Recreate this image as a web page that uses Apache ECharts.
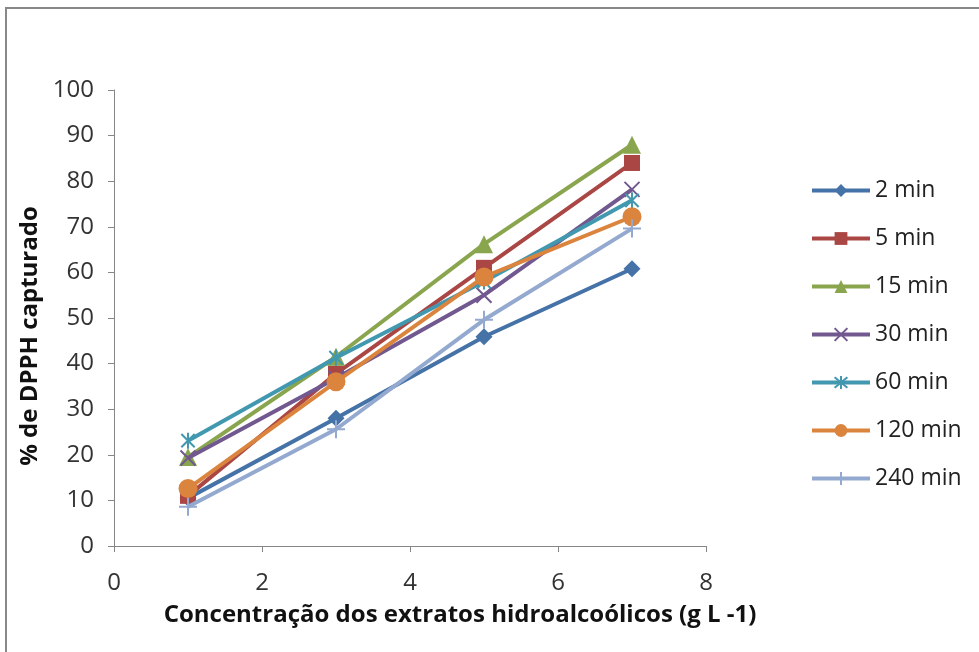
<!DOCTYPE html>
<html><head><meta charset="utf-8">
<script src="https://cdn.jsdelivr.net/npm/echarts@6/dist/echarts.min.js"></script>
<style>html,body{margin:0;padding:0;background:#fff}#c{width:979px;height:652px}</style>
</head><body><div id="c"></div>
<script>
const xValues = [1, 3, 5, 7];
const seriesNames = ['2 min', '5 min', '15 min', '30 min', '60 min', '120 min', '240 min'];
const s2min   = [10.5, 28.0, 45.9, 60.8];
const s5min   = [11.0, 37.8, 61.0, 84.0];
const s15min  = [19.5, 41.5, 66.2, 88.0];
const s30min  = [19.3, 36.8, 55.0, 78.2];
const s60min  = [23.1, 41.3, 58.0, 75.8];
const s120min = [12.6, 36.0, 59.0, 72.2];
const s240min = [8.6, 25.6, 49.6, 69.6];
const xTicks = [0, 2, 4, 6, 8];
const yTicks = [0, 10, 20, 30, 40, 50, 60, 70, 80, 90, 100];

const allData = [s2min, s5min, s15min, s30min, s60min, s120min, s240min];
const colors = ['#4572A7', '#AA4643', '#89A54E', '#71588F', '#4198AF', '#DB843D', '#93A9CF'];
const symbols = ['diamond', 'rect', 'triangle',
  'path://M0,0L10,10M10,0L0,10',
  'path://M0,0L10,10M10,0L0,10M5,-1L5,11',
  'circle',
  'path://M5,0L5,10M0,5L10,5'];
const sizes = [17, 16, 18, 15, 16, 19, 18];
const lineSym = [false, false, false, true, true, false, true];
const FONT = '"Open Sans", Lato, sans-serif';

const chart = echarts.init(document.getElementById('c'), null, {renderer: 'canvas'});
chart.setOption({
  animation: false,
  backgroundColor: '#fff',
  graphic: [{type: 'rect', shape: {x: 6, y: 8, width: 1000, height: 700},
    style: {fill: 'none', stroke: '#888', lineWidth: 2}, silent: true}],
  grid: {left: 114, right: 273, top: 90, bottom: 106},
  legend: {
    orient: 'vertical', left: 805, top: 174, itemWidth: 58, itemHeight: 16, itemGap: 25,
    lineStyle: {width: 4},
    textStyle: {fontFamily: FONT, fontSize: 23, color: '#222', padding: [0, 0, 0, 0]},
    data: seriesNames
  },
  xAxis: {
    type: 'value', min: xTicks[0], max: xTicks[xTicks.length - 1], interval: 2,
    name: 'Concentração dos extratos hidroalcoólicos (g L -1)', nameLocation: 'middle', nameGap: 57,
    nameTextStyle: {fontFamily: FONT, fontSize: 24, fontWeight: 'bold', color: '#111', padding: [0, 0, 0, 100]},
    axisLine: {lineStyle: {color: '#868686', width: 1}},
    axisTick: {show: true, inside: false, length: 6, lineStyle: {color: '#868686'}},
    axisLabel: {fontFamily: FONT, fontSize: 24, color: '#333', margin: 25},
    splitLine: {show: false}
  },
  yAxis: {
    type: 'value', min: yTicks[0], max: yTicks[yTicks.length - 1], interval: 10,
    name: '% de DPPH capturado', nameLocation: 'middle', nameGap: 60, nameRotate: 90,
    nameTextStyle: {fontFamily: FONT, fontSize: 24, fontWeight: 'bold', color: '#111', padding: [0, 36, 0, 0]},
    axisLine: {show: true, lineStyle: {color: '#868686', width: 1}},
    axisTick: {show: true, inside: false, length: 6, lineStyle: {color: '#868686'}},
    axisLabel: {fontFamily: FONT, fontSize: 24, color: '#333', margin: 20},
    splitLine: {show: false}
  },
  series: seriesNames.map((n, i) => ({
    name: n, type: 'line',
    data: xValues.map((x, j) => [x, allData[i][j]]),
    symbol: symbols[i], symbolSize: sizes[i], symbolKeepAspect: true,
    showSymbol: true,
    lineStyle: {color: colors[i], width: 4},
    itemStyle: {color: lineSym[i] ? 'none' : colors[i], borderColor: colors[i], borderWidth: lineSym[i] ? 2 : 0},
    z: 2 + i
  }))
});
</script></body></html>
